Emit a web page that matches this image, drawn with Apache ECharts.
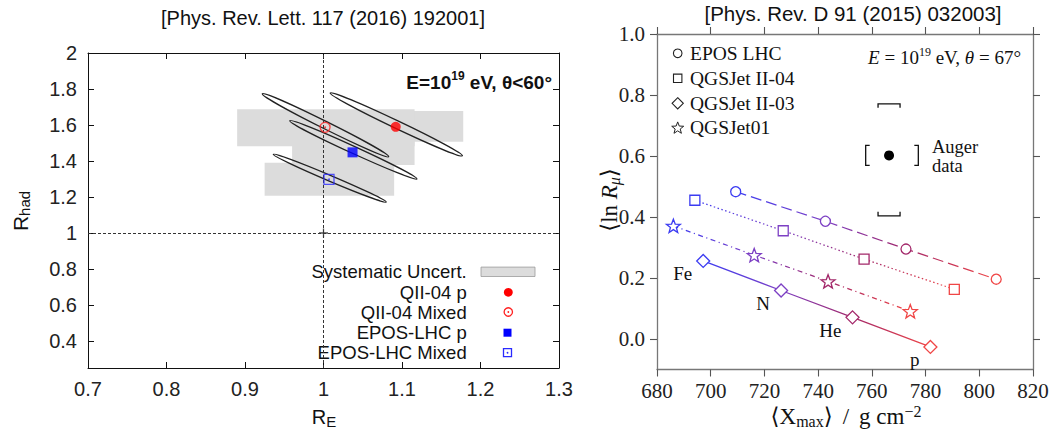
<!DOCTYPE html>
<html>
<head>
<meta charset="utf-8">
<script src="https://cdn.jsdelivr.net/npm/echarts@6/dist/echarts.min.js"></script>
<style>
  html, body { margin: 0; padding: 0; background: #ffffff; }
  #chart { width: 1052px; height: 430px; }
</style>
</head>
<body>
<div id="chart"></div>
<script>
// ---------- Left panel: fitted rescaling factors (R_E, R_had) ----------
const fitNames = ['QII-04 p', 'QII-04 Mixed', 'EPOS-LHC p', 'EPOS-LHC Mixed'];
const fitRE = [1.092, 1.002, 1.037, 1.007];
const fitRhad = [1.590, 1.587, 1.448, 1.298];
// systematic-uncertainty boxes: [low, high]
const sysRE = [[1.004, 1.178], [0.890, 1.116], [0.960, 1.116], [0.925, 1.090]];
const sysRhad = [[1.507, 1.678], [1.482, 1.687], [1.378, 1.522], [1.207, 1.390]];
// confidence contours: major-axis end points and minor/major axis ratio
const contourStart = [[1.0085, 1.778], [0.922, 1.774], [0.957, 1.624], [0.936, 1.437]];
const contourEnd = [[1.177, 1.429], [1.083, 1.424], [1.119, 1.300], [1.080, 1.172]];
const contourRatio = [0.052, 0.052, 0.05, 0.047];
const nominalPoint = [1, 1];
const reTicks = [0.7, 0.8, 0.9, 1.0, 1.1, 1.2, 1.3];
const rhadTicks = [0.4, 0.6, 0.8, 1, 1.2, 1.4, 1.6, 1.8, 2];

// ---------- Right panel: <ln R_mu> vs <Xmax> ----------
const primaries = ['Fe', 'N', 'He', 'p'];
const eposX = [709.3, 742.7, 772.7, 806.3];
const eposY = [0.483, 0.386, 0.295, 0.196];
const qgsII04X = [694.1, 727.0, 757.1, 790.7];
const qgsII04Y = [0.455, 0.355, 0.262, 0.163];
const qgsII03X = [697.2, 726.2, 752.8, 781.8];
const qgsII03Y = [0.256, 0.159, 0.071, -0.026];
const qgs01X = [686.1, 716.2, 743.7, 774.3];
const qgs01Y = [0.371, 0.275, 0.189, 0.091];
// Auger measurement with its systematic ranges
const augerX = 766.4;
const augerY = 0.602;
const augerXSys = [757.7, 777.3];
const augerYSys = [0.404, 0.771];
const xmaxTicks = [680, 700, 720, 740, 760, 780, 800, 820];
const lnRTicks = [0, 0.2, 0.4, 0.6, 0.8, 1.0];

const SANS = 'Liberation Sans, Arial, Helvetica, sans-serif';
const SERIF = 'Liberation Serif, DejaVu Serif, serif';
const primaryColors = ['#3c3cf2', '#7d40c4', '#a3286a', '#f04646'];

const chart = echarts.init(document.getElementById('chart'), null, { renderer: 'svg', width: 1052, height: 430 });

// colour ramp along a model line, Fe -> p
function rampFor(xs) {
  const x0 = xs[0], x1 = xs[xs.length - 1];
  return new echarts.graphic.LinearGradient(0, 0, 1, 0,
    xs.map((x, i) => ({ offset: (x - x0) / (x1 - x0), color: primaryColors[i] })));
}

const starPath = 'path://M50 0L62.3 33L97.6 34.5L70 56.5L79.4 90.5L50 71L20.6 90.5L30 56.5L2.4 34.5L37.7 33Z';

function modelSeries(name, xs, ys, symbol, size, dash, extra) {
  return Object.assign({
    name, type: 'line', xAxisIndex: 2, yAxisIndex: 2,
    data: xs.map((x, i) => ({ value: [x, ys[i]], itemStyle: { borderColor: primaryColors[i] } })),
    symbol, symbolSize: size, symbolKeepAspect: true, showAllSymbol: true,
    itemStyle: { color: '#ffffff', borderWidth: 1.3 },
    lineStyle: { color: rampFor(xs), width: 1.25, type: dash },
    z: 4, silent: true
  }, extra || {});
}

// left panel axes (ticks inside, box on all four sides)
function leftX(pos, showLabel) {
  return {
    type: 'value', gridIndex: 0, position: pos, min: 0.7, max: 1.3, interval: 0.1,
    axisLine: { show: true, onZero: false, lineStyle: { color: '#111', width: 1 } },
    axisTick: { show: true, inside: true, length: 6, lineStyle: { color: '#111' } },
    axisLabel: { show: showLabel, margin: 11, fontFamily: SANS, fontSize: 20, color: '#222',
                 formatter: v => String(+v.toFixed(1)) },
    splitLine: { show: false }
  };
}
function leftY(pos, showLabel) {
  return {
    type: 'value', gridIndex: 0, position: pos, min: 0.25, max: 2,
    axisLine: { show: true, onZero: false, lineStyle: { color: '#111', width: 1 } },
    axisTick: { show: true, inside: true, length: 6, customValues: rhadTicks, lineStyle: { color: '#111' } },
    axisLabel: { show: showLabel, margin: 11, customValues: rhadTicks, fontFamily: SANS, fontSize: 20, color: '#222',
                 formatter: v => String(+v.toFixed(1)) },
    splitLine: { show: false }
  };
}
// right panel axes (ticks outside)
function rightX(pos, showLabel) {
  return {
    type: 'value', gridIndex: 1, position: pos, min: 680, max: 820, interval: 20,
    axisLine: { show: true, onZero: false, lineStyle: { color: '#777', width: 1.3 } },
    axisTick: { show: true, inside: false, length: 7, lineStyle: { color: '#555', width: 1.1 } },
    axisLabel: { show: showLabel, margin: 11, fontFamily: SERIF, fontSize: 21, color: '#222' },
    splitLine: { show: false }
  };
}
function rightY(pos, showLabel) {
  return {
    type: 'value', gridIndex: 1, position: pos, min: -0.1, max: 1.0,
    axisLine: { show: true, onZero: false, lineStyle: { color: '#777', width: 1.3 } },
    axisTick: { show: true, inside: false, length: 7, customValues: lnRTicks, lineStyle: { color: '#555', width: 1.1 } },
    axisLabel: { show: showLabel, margin: 12, customValues: lnRTicks, fontFamily: SERIF, fontSize: 21, color: '#222',
                 formatter: v => v.toFixed(1) },
    splitLine: { show: false }
  };
}

// legend helpers (drawn as plain graphics)
const leftLegendRows = [271.7, 292.3, 312, 332.7, 352.7];
const leftLegendLabels = ['Systematic Uncert.'].concat(fitNames);
const rightLegendRows = [53.3, 78.3, 103.3, 127.7];
const rightLegendLabels = ['EPOS LHC', 'QGSJet II-04', 'QGSJet II-03', 'QGSJet01'];

function starPoints(cx, cy, r) {
  const pts = [];
  for (let k = 0; k < 10; k++) {
    const a = -Math.PI / 2 + k * Math.PI / 5;
    const rr = k % 2 === 0 ? r : r * 0.42;
    pts.push([cx + rr * Math.cos(a), cy + rr * Math.sin(a)]);
  }
  return pts;
}

const graphics = [
  { type: 'text', x: 323, y: 18, style: { text: '[Phys. Rev. Lett. 117 (2016) 192001]', font: '20px ' + SANS, fill: '#111', align: 'center', verticalAlign: 'middle' } },
  { type: 'text', x: 853, y: 13, style: { text: '[Phys. Rev. D 91 (2015) 032003]', font: '20.5px ' + SANS, fill: '#111', align: 'center', verticalAlign: 'middle' } },
  // left axis names
  { type: 'text', x: 20, y: 211, rotation: Math.PI / 2, style: {
      text: '{r|R}{s|had}', align: 'center', verticalAlign: 'middle',
      rich: { r: { fontFamily: SANS, fontSize: 21, lineHeight: 24, fill: '#111' },
              s: { fontFamily: SANS, fontSize: 15, lineHeight: 15, verticalAlign: 'bottom', fill: '#111' } } } },
  { type: 'text', x: 324, y: 417, style: {
      text: '{r|R}{s|E}', align: 'center', verticalAlign: 'middle',
      rich: { r: { fontFamily: SANS, fontSize: 20, lineHeight: 24, fill: '#111' },
              s: { fontFamily: SANS, fontSize: 15, lineHeight: 15, verticalAlign: 'bottom', fill: '#111' } } } },
  // left annotation
  { type: 'text', x: 552, y: 82, style: {
      text: '{a|E=10}{b|19}{a| eV, θ<60°}', align: 'right', verticalAlign: 'middle',
      rich: { a: { fontFamily: SANS, fontWeight: 'bold', fontSize: 19, lineHeight: 24, fill: '#111' },
              b: { fontFamily: SANS, fontWeight: 'bold', fontSize: 12, lineHeight: 13, verticalAlign: 'top', fill: '#111' } } } },
  // left legend
  ...leftLegendLabels.map((t, i) => ({ type: 'text', x: 466.7, y: leftLegendRows[i], style: { text: t, font: '18.5px ' + SANS, lineHeight: 18, fill: '#111', align: 'right', verticalAlign: 'middle' } })),
  { type: 'rect', shape: { x: 481, y: leftLegendRows[0] - 4.6, width: 54, height: 9.4 }, style: { fill: '#dcdcdc', stroke: '#9a9a9a', lineWidth: 0.8 } },
  { type: 'circle', shape: { cx: 508.3, cy: leftLegendRows[1], r: 4.4 }, style: { fill: '#ff0000' } },
  { type: 'circle', shape: { cx: 508.3, cy: leftLegendRows[2], r: 4.2 }, style: { fill: 'none', stroke: '#ff2020', lineWidth: 1.3 } },
  { type: 'circle', shape: { cx: 508.3, cy: leftLegendRows[2], r: 0.9 }, style: { fill: '#ff2020' } },
  { type: 'rect', shape: { x: 503.5, y: leftLegendRows[3] - 4, width: 8, height: 8 }, style: { fill: '#0000ff' } },
  { type: 'rect', shape: { x: 503.5, y: leftLegendRows[4] - 4, width: 8, height: 8 }, style: { fill: 'none', stroke: '#2a2aff', lineWidth: 1.3 } },
  { type: 'circle', shape: { cx: 507.5, cy: leftLegendRows[4], r: 0.9 }, style: { fill: '#2a2aff' } },
  // right legend
  ...rightLegendLabels.map((t, i) => ({ type: 'text', x: 690, y: rightLegendRows[i], style: { text: t, font: '19.5px ' + SERIF, fill: '#111', align: 'left', verticalAlign: 'middle' } })),
  { type: 'circle', shape: { cx: 677.7, cy: rightLegendRows[0], r: 4.3 }, style: { fill: 'none', stroke: '#222', lineWidth: 1.1 } },
  { type: 'rect', shape: { x: 673.5, y: rightLegendRows[1] - 4.2, width: 8.4, height: 8.4 }, style: { fill: 'none', stroke: '#222', lineWidth: 1.1 } },
  { type: 'polygon', shape: { points: [[677.7, rightLegendRows[2] - 5.6], [683.3, rightLegendRows[2]], [677.7, rightLegendRows[2] + 5.6], [672.1, rightLegendRows[2]]] }, style: { fill: 'none', stroke: '#222', lineWidth: 1.1 } },
  { type: 'polygon', shape: { points: starPoints(677.7, rightLegendRows[3] + 0.5, 6.3) }, style: { fill: 'none', stroke: '#222', lineWidth: 1.0 } },
  // right annotation
  { type: 'text', x: 1021, y: 57, style: {
      text: '{i|E}{r| = 10}{s|19}{r| eV, }{i|θ}{r| = 67°}', align: 'right', verticalAlign: 'middle',
      rich: { i: { fontFamily: SERIF, fontStyle: 'italic', fontSize: 19, lineHeight: 22, fill: '#111' },
              r: { fontFamily: SERIF, fontSize: 19, lineHeight: 22, fill: '#111' },
              s: { fontFamily: SERIF, fontSize: 12, lineHeight: 12, verticalAlign: 'top', fill: '#111' } } } },
  { type: 'text', x: 932, y: 156.5, style: { text: 'Auger\ndata', font: '18.5px ' + SERIF, lineHeight: 19, fill: '#111', align: 'left', verticalAlign: 'middle' } },
  // right axis names
  { type: 'text', x: 846, y: 416.5, style: {
      text: '{r|⟨X}{s|max}{r|⟩}{d|/}{r|g cm}{p|−2}', align: 'center', verticalAlign: 'middle',
      rich: { r: { fontFamily: SERIF, fontSize: 23, lineHeight: 26, fill: '#111' },
              d: { fontFamily: SERIF, fontSize: 23, lineHeight: 26, padding: [0, 10, 0, 10], fill: '#111' },
              s: { fontFamily: SERIF, fontSize: 16, lineHeight: 16, verticalAlign: 'bottom', fill: '#111' },
              p: { fontFamily: SERIF, fontSize: 16, lineHeight: 16, verticalAlign: 'top', fill: '#111' } } } },
  { type: 'text', x: 609, y: 200, rotation: Math.PI / 2, style: {
      text: '{r|⟨ln }{i|R}{s|μ}{r|⟩}', align: 'center', verticalAlign: 'middle',
      rich: { r: { fontFamily: SERIF, fontSize: 23, lineHeight: 26, fill: '#111' },
              i: { fontFamily: SERIF, fontStyle: 'italic', fontSize: 23, lineHeight: 26, fill: '#111' },
              s: { fontFamily: SERIF, fontStyle: 'italic', fontSize: 16, lineHeight: 16, verticalAlign: 'bottom', fill: '#111' } } } }
];

const option = {
  animation: false,
  backgroundColor: '#ffffff',
  grid: [
    { left: 88, top: 53, width: 471, height: 315, containLabel: false },
    { left: 657, top: 34, width: 376, height: 335.5, containLabel: false }
  ],
  xAxis: [leftX('bottom', true), leftX('top', false), rightX('bottom', true), rightX('top', false)],
  yAxis: [leftY('left', true), leftY('right', false), rightY('left', true), rightY('right', false)],
  graphic: graphics,
  series: [
    // systematic boxes
    {
      type: 'custom', xAxisIndex: 0, yAxisIndex: 0, z: 1, silent: true,
      data: sysRE.map((r, i) => [r[0], r[1], sysRhad[i][0], sysRhad[i][1]]),
      encode: { x: [0, 1], y: [2, 3] },
      renderItem(params, api) {
        const a = api.coord([api.value(0), api.value(3)]);
        const b = api.coord([api.value(1), api.value(2)]);
        return { type: 'rect', shape: { x: a[0], y: a[1], width: b[0] - a[0], height: b[1] - a[1] }, style: { fill: '#dcdcdc' } };
      }
    },
    // contours
    {
      type: 'custom', xAxisIndex: 0, yAxisIndex: 0, z: 3, silent: true,
      data: contourStart.map((s, i) => [s[0], s[1], contourEnd[i][0], contourEnd[i][1], contourRatio[i]]),
      encode: { x: [0, 2], y: [1, 3] },
      renderItem(params, api) {
        const p1 = api.coord([api.value(0), api.value(1)]);
        const p2 = api.coord([api.value(2), api.value(3)]);
        const dx = p2[0] - p1[0], dy = p2[1] - p1[1];
        const rx = Math.hypot(dx, dy) / 2;
        return {
          type: 'ellipse', x: (p1[0] + p2[0]) / 2, y: (p1[1] + p2[1]) / 2,
          rotation: -Math.atan2(dy, dx),
          shape: { cx: 0, cy: 0, rx: rx, ry: rx * api.value(4) },
          style: { fill: 'none', stroke: '#222', lineWidth: 1.3 }
        };
      }
    },
    // reference lines at R = 1
    {
      type: 'scatter', xAxisIndex: 0, yAxisIndex: 0, z: 2, silent: true,
      data: [nominalPoint],
      symbol: 'path://M4.3 0h1.4v10h-1.4zM0 4.3h10v1.4h-10z', symbolSize: 9,
      itemStyle: { color: '#222' },
      markLine: {
        silent: true, symbol: 'none', label: { show: false },
        lineStyle: { color: '#333', width: 1, type: [3, 2] },
        data: [{ xAxis: nominalPoint[0] }, { yAxis: nominalPoint[1] }]
      }
    },
    {
      name: fitNames[0], type: 'scatter', xAxisIndex: 0, yAxisIndex: 0, z: 5, silent: true,
      data: [[fitRE[0], fitRhad[0]]], symbol: 'circle', symbolSize: 10, itemStyle: { color: '#ff0000' }
    },
    {
      name: fitNames[1], type: 'scatter', xAxisIndex: 0, yAxisIndex: 0, z: 5, silent: true,
      data: [[fitRE[1], fitRhad[1]]], symbol: 'circle', symbolSize: 10,
      itemStyle: { color: 'rgba(0,0,0,0)', borderColor: '#ff2020', borderWidth: 1.3 }
    },
    {
      name: fitNames[2], type: 'scatter', xAxisIndex: 0, yAxisIndex: 0, z: 5, silent: true,
      data: [[fitRE[2], fitRhad[2]]], symbol: 'rect', symbolSize: 10, itemStyle: { color: '#0000ff' }
    },
    {
      name: fitNames[3], type: 'scatter', xAxisIndex: 0, yAxisIndex: 0, z: 5, silent: true,
      data: [[fitRE[3], fitRhad[3]]], symbol: 'rect', symbolSize: 10,
      itemStyle: { color: 'rgba(0,0,0,0)', borderColor: '#2a2aff', borderWidth: 1.3 }
    },
    // centre dots of the open markers
    {
      type: 'scatter', xAxisIndex: 0, yAxisIndex: 0, z: 6, silent: true,
      data: [
        { value: [fitRE[1], fitRhad[1]], itemStyle: { color: '#ff2020' } },
        { value: [fitRE[3], fitRhad[3]], itemStyle: { color: '#2a2aff' } }
      ],
      symbol: 'circle', symbolSize: 2
    },
    // model predictions
    modelSeries('EPOS LHC', eposX, eposY, 'circle', 10, [11, 5]),
    modelSeries('QGSJet II-04', qgsII04X, qgsII04Y, 'rect', 10, [1.5, 2.5]),
    modelSeries('QGSJet II-03', qgsII03X, qgsII03Y, 'diamond', 13, 'solid', {
      label: {
        show: true, position: 'inside', align: 'right', verticalAlign: 'middle', offset: [-11, 13],
        formatter: p => primaries[p.dataIndex], fontFamily: SERIF, fontSize: 19, color: '#111'
      }
    }),
    modelSeries('QGSJet01', qgs01X, qgs01Y, starPath, 14, [5, 3.5, 1.2, 3.5]),
    // Auger data point with systematic brackets
    {
      type: 'custom', xAxisIndex: 2, yAxisIndex: 2, z: 5, silent: true,
      data: [[augerX, augerY, augerXSys[0], augerXSys[1], augerYSys[0], augerYSys[1]]],
      encode: { x: 0, y: 1 },
      renderItem(params, api) {
        const c = api.coord([api.value(0), api.value(1)]);
        const xl = api.coord([api.value(2), api.value(1)])[0];
        const xr = api.coord([api.value(3), api.value(1)])[0];
        const yb = api.coord([api.value(0), api.value(4)])[1];
        const yt = api.coord([api.value(0), api.value(5)])[1];
        const s = { stroke: '#111', lineWidth: 1.3, fill: 'none' };
        const h = 10, w = 11, t = 4;
        return {
          type: 'group',
          children: [
            { type: 'polyline', shape: { points: [[xl + t, c[1] - h], [xl, c[1] - h], [xl, c[1] + h], [xl + t, c[1] + h]] }, style: s },
            { type: 'polyline', shape: { points: [[xr - t, c[1] - h], [xr, c[1] - h], [xr, c[1] + h], [xr - t, c[1] + h]] }, style: s },
            { type: 'polyline', shape: { points: [[c[0] - w, yt + t], [c[0] - w, yt], [c[0] + w, yt], [c[0] + w, yt + t]] }, style: s },
            { type: 'polyline', shape: { points: [[c[0] - w, yb - t], [c[0] - w, yb], [c[0] + w, yb], [c[0] + w, yb - t]] }, style: s },
            { type: 'circle', shape: { cx: c[0], cy: c[1], r: 5 }, style: { fill: '#000' } }
          ]
        };
      }
    }
  ]
};

chart.setOption(option);
</script>
</body>
</html>
